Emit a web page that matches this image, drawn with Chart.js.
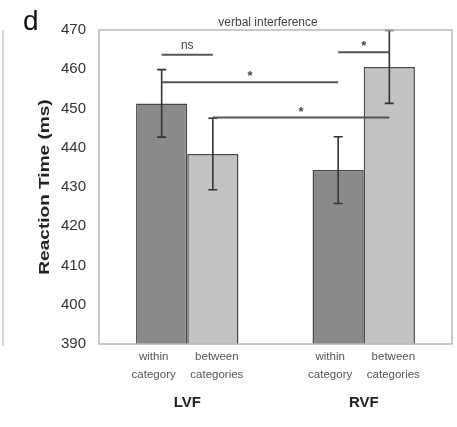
<!DOCTYPE html>
<html>
<head>
<meta charset="utf-8">
<script src="https://cdn.jsdelivr.net/npm/chart.js@4"></script>
<style>
  body { margin: 0; background: #fff; }
  canvas { display: block; }
</style>
</head>
<body>
<canvas id="chart" width="457" height="427"></canvas>
<script>
// groups on the x axis
const groups = ['LVF', 'RVF'];

// mean reaction time (ms) per condition
const withinValues = [451.3, 434.3];
const betweenValues = [438.4, 460.6];

// error bar half-widths (ms)
const withinErrors = [8.6, 8.5];
const betweenErrors = [9.1, 9.3];

const seriesLabels = [['within', 'category'], ['between', 'categories']];
const yTicks = [390, 400, 410, 420, 430, 440, 450, 460, 470];

// significance markers: [dataset, group] -> [dataset, group], height in ms
const brackets = [
  { from: [0, 0], to: [1, 0], y: 463.7, text: 'ns' },
  { from: [0, 1], to: [1, 1], y: 464.3, text: '*' },
  { from: [0, 0], to: [0, 1], y: 456.7, text: '*' },
  { from: [1, 0], to: [1, 1], y: 447.7, text: '*' },
];

const panelTitle = 'verbal interference';
const yTitle = 'Reaction Time (ms)';
const panelLetter = 'd';

const extras = {
  id: 'extras',
  afterDatasetsDraw(chart) {
    const ctx = chart.ctx;
    const y = chart.scales.y;
    const errs = [withinErrors, betweenErrors];
    const vals = [withinValues, betweenValues];

    // error bars
    ctx.save();
    ctx.strokeStyle = '#333';
    ctx.lineWidth = 1.6;
    [0, 1].forEach(d => {
      chart.getDatasetMeta(d).data.forEach((bar, i) => {
        const top = y.getPixelForValue(vals[d][i] + errs[d][i]);
        const bot = y.getPixelForValue(vals[d][i] - errs[d][i]);
        ctx.beginPath();
        ctx.moveTo(bar.x, top); ctx.lineTo(bar.x, bot);
        ctx.moveTo(bar.x - 4.5, top); ctx.lineTo(bar.x + 4.5, top);
        ctx.moveTo(bar.x - 4.5, bot); ctx.lineTo(bar.x + 4.5, bot);
        ctx.stroke();
      });
    });
    ctx.restore();

    // significance lines
    ctx.save();
    ctx.strokeStyle = '#555';
    ctx.fillStyle = '#444';
    ctx.lineWidth = 2;
    ctx.textAlign = 'center';
    brackets.forEach(b => {
      const x1 = chart.getDatasetMeta(b.from[0]).data[b.from[1]].x;
      const x2 = chart.getDatasetMeta(b.to[0]).data[b.to[1]].x;
      const py = y.getPixelForValue(b.y);
      ctx.beginPath();
      ctx.moveTo(x1, py); ctx.lineTo(x2, py);
      ctx.stroke();
      ctx.textBaseline = 'alphabetic';
      if (b.text === 'ns') {
        ctx.font = '12px "Liberation Sans", Arial, sans-serif';
        ctx.fillText(b.text, (x1 + x2) / 2, py - 6);
      } else {
        ctx.font = 'bold 13px "Liberation Sans", Arial, sans-serif';
        ctx.fillText(b.text, (x1 + x2) / 2, py - 2);
      }
    });
    ctx.restore();
  },
  afterDraw(chart) {
    const ctx = chart.ctx;
    const a = chart.chartArea;
    ctx.save();

    // plot frame
    ctx.strokeStyle = '#b8b8b8';
    ctx.lineWidth = 1.5;
    ctx.strokeRect(a.left, a.top, a.right - a.left, a.bottom - a.top);

    // edge of neighbouring panel
    ctx.strokeStyle = '#c8c8c8';
    ctx.beginPath();
    ctx.moveTo(3, a.top); ctx.lineTo(3, a.bottom + 2);
    ctx.stroke();

    // panel letter
    ctx.fillStyle = '#111';
    ctx.font = '28px "Liberation Sans", Arial, sans-serif';
    ctx.textAlign = 'left';
    ctx.textBaseline = 'alphabetic';
    ctx.fillText(panelLetter, 23, 30);

    // title
    ctx.fillStyle = '#444';
    ctx.font = '12px "Liberation Sans", Arial, sans-serif';
    ctx.textAlign = 'center';
    ctx.fillText(panelTitle, 268, 26);

    // y axis title, stretched along its length
    ctx.save();
    ctx.translate(45, (a.top + a.bottom) / 2);
    ctx.rotate(-Math.PI / 2);
    ctx.scale(1.36, 1);
    ctx.fillStyle = '#222';
    ctx.font = 'bold 14px "Liberation Sans", Arial, sans-serif';
    ctx.textBaseline = 'middle';
    ctx.fillText(yTitle, 0, 0);
    ctx.restore();

    // bar sub-labels, nudged apart as in the original
    ctx.fillStyle = '#555';
    ctx.font = '11.5px "Liberation Sans", Arial, sans-serif';
    ctx.textBaseline = 'middle';
    const nudge = [-8, 4];
    [0, 1].forEach(d => {
      chart.getDatasetMeta(d).data.forEach(bar => {
        ctx.fillText(seriesLabels[d][0], bar.x + nudge[d], a.bottom + 13);
        ctx.fillText(seriesLabels[d][1], bar.x + nudge[d], a.bottom + 31);
      });
    });
    ctx.restore();
  }
};

new Chart(document.getElementById('chart'), {
  type: 'bar',
  data: {
    labels: groups,
    datasets: [
      {
        label: seriesLabels[0].join(' '),
        data: withinValues,
        backgroundColor: '#8a8a8a',
        borderColor: '#444',
        borderWidth: 1.5,
        borderSkipped: false,
        barPercentage: 1,
        categoryPercentage: 0.58
      },
      {
        label: seriesLabels[1].join(' '),
        data: betweenValues,
        backgroundColor: '#c2c2c2',
        borderColor: '#444',
        borderWidth: 1.5,
        borderSkipped: false,
        barPercentage: 1,
        categoryPercentage: 0.58
      }
    ]
  },
  options: {
    responsive: false,
    animation: false,
    layout: { padding: { top: 30, right: 5, left: 0, bottom: 0 } },
    plugins: {
      legend: { display: false },
      title: { display: false },
      tooltip: { enabled: false }
    },
    scales: {
      x: {
        grid: { display: false, drawTicks: false },
        border: { display: false },
        ticks: {
          color: '#222',
          padding: 50,
          font: { family: '"Liberation Sans", Arial, sans-serif', size: 15, weight: 'bold' }
        },
        afterFit: s => { s.height = 83; }
      },
      y: {
        min: 390,
        max: 470,
        grid: { display: false, drawTicks: false },
        border: { display: false },
        afterBuildTicks: s => { s.ticks = yTicks.map(v => ({ value: v })); },
        ticks: {
          color: '#333',
          padding: 13,
          font: { family: '"Liberation Sans", Arial, sans-serif', size: 15 }
        },
        afterFit: s => { s.width = 99; }
      }
    }
  },
  plugins: [extras]
});
</script>
</body>
</html>
